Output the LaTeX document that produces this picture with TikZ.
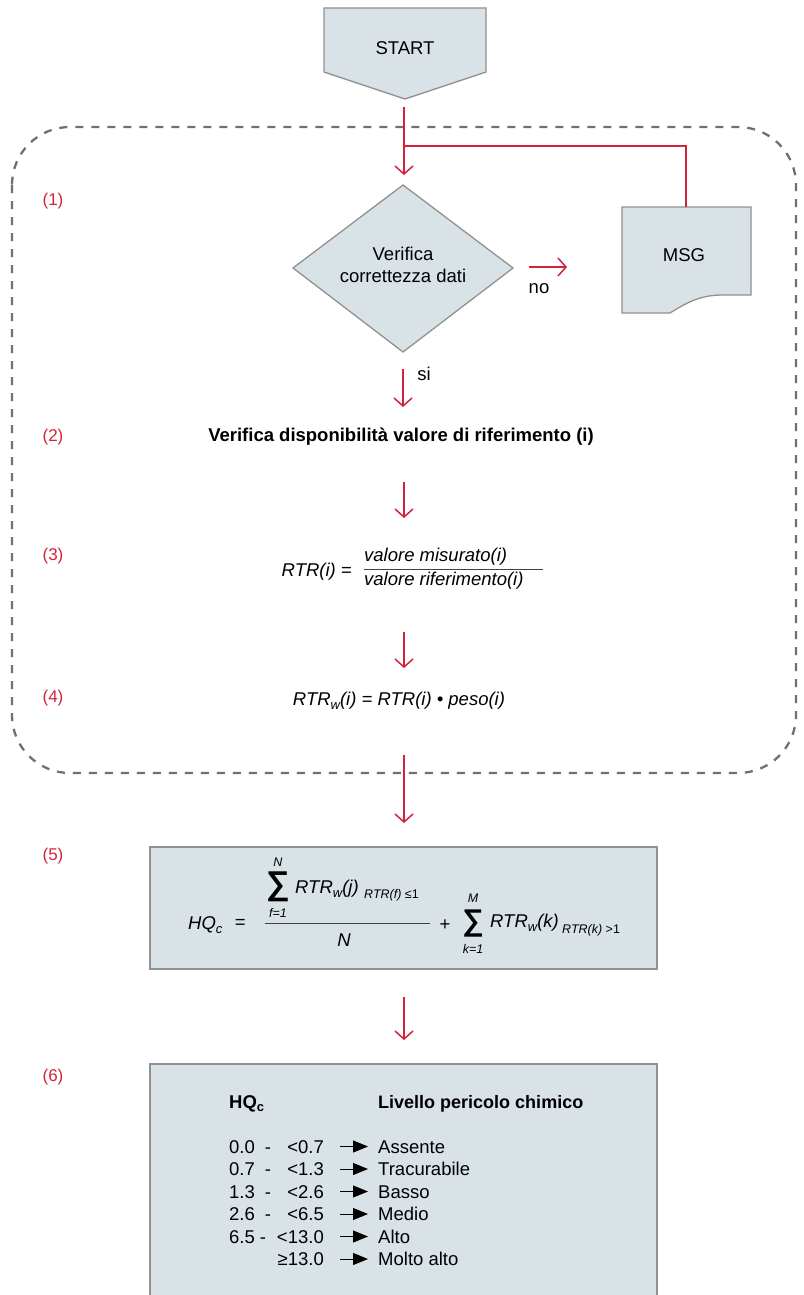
\documentclass[tikz,border=0pt]{standalone}
\usepackage{fontspec}
\usepackage{graphicx}
\setmainfont{Liberation Sans}
\usetikzlibrary{arrows.meta}
\definecolor{myred}{RGB}{210,35,60}
\definecolor{boxfill}{RGB}{217,227,231}
\definecolor{boxline}{RGB}{145,145,145}
\definecolor{dashgray}{RGB}{112,112,112}
\newcommand{\mysub}[1]{\raisebox{-0.35ex}{\fontsize{13}{13}\selectfont #1}}
\begin{document}
\begin{tikzpicture}[x=1pt,y=-1pt,
  shapebox/.style={draw=boxline,fill=boxfill,line width=1.3pt},
  redline/.style={draw=myred,line width=1.5pt},
  redarrow/.style={redline,-{Straight Barb[length=8pt,width=18pt]}},
  txt/.style={inner sep=0pt,font=\fontsize{18.5}{22}\selectfont},
  itxt/.style={txt,font=\fontsize{18.5}{22}\selectfont\itshape},
  small/.style={inner sep=0pt,font=\fontsize{12.5}{14}\selectfont\itshape},
  lbl/.style={inner sep=0pt,text=myred,font=\fontsize{17}{20}\selectfont},
  sumsym/.style={inner sep=0pt,font=\fontsize{33}{36}\selectfont\bfseries},
  tarrow/.style={draw=black,line width=1pt,-{Triangle[length=15pt,width=12pt]}},
  rowtxt/.style={inner sep=0pt,anchor=base west,font=\fontsize{18.5}{22}\selectfont},
  rowtxte/.style={inner sep=0pt,anchor=base east,font=\fontsize{18.5}{22}\selectfont},
  rowtxtc/.style={inner sep=0pt,anchor=base,font=\fontsize{18.5}{22}\selectfont}
]
\useasboundingbox (0,0) rectangle (803,1295);
\clip (0,0) rectangle (803,1295);
\fill[white] (0,0) rectangle (803,1295);

% dashed region
\draw[draw=dashgray,line width=2.3pt,dash pattern=on 8pt off 8pt,rounded corners=58pt]
  (12,127) rectangle (796,773);

% step labels
\node[lbl] (l1) at (53,201) {(1)};
\node[lbl] (l2) at (53,437) {(2)};
\node[lbl] (l3) at (53,556) {(3)};
\node[lbl] (l4) at (53,698) {(4)};
\node[lbl] (l5) at (53,856) {(5)};
\node[lbl] (l6) at (53,1077) {(6)};

% START
\draw[shapebox] (324,8) -- (486,8) -- (486,72) -- (405,99) -- (324,72) -- cycle;
\node[txt] (start) at (405,48) {START};

% decision diamond
\draw[shapebox] (293,268) -- (403,185) -- (513,268) -- (403,352) -- cycle;
\node[txt,align=center] (check) at (403,265) {Verifica\\correttezza dati};

% MSG document
\draw[shapebox] (622,207) -- (751,207) -- (751,295) -- (723,295)
  .. controls (700,295) and (688,302) .. (670,313) -- (622,313) -- cycle;
\node[txt] (msg) at (684,255) {MSG};
\coordinate (msgtop) at (686,207);

% connectors top
\coordinate (s0) at (404,107);
\coordinate (s1) at (404,175);
\coordinate (br) at (404,146);
\draw[redarrow] (s0) -- (s1);
\draw[redline] (br) -| (msgtop);

\coordinate (n0) at (529,267);
\coordinate (n1) at (567,267);
\draw[redarrow] (n0) -- (n1);
\node[txt] (no) at (539,289) {no};

\coordinate (y0) at (403,369);
\coordinate (y1) at (403,407);
\draw[redarrow] (y0) -- (y1);
\node[txt] (si) at (424,374) {si};

% step 2
\node[txt,font=\fontsize{18.5}{22}\selectfont\bfseries] (disp) at (401,437) {Verifica disponibilità valore di riferimento (i)};

\coordinate (c0) at (404,482);
\coordinate (c1) at (404,518);
\draw[redarrow] (c0) -- (c1);

% step 3
\node[itxt,anchor=east] (rtr) at (352,572) {RTR(i) =};
\node[itxt,anchor=west] (num) at (364,557) {valore misurato(i)};
\node[itxt,anchor=west] (den) at (364,581) {valore riferimento(i)};
\coordinate (fl0) at (364,569);
\coordinate (fl1) at (543,569);
\draw[draw=black!75,line width=1pt] (fl0) -- (fl1);

\coordinate (d0) at (404,632);
\coordinate (d1) at (404,668);
\draw[redarrow] (d0) -- (d1);

% step 4
\node[itxt] (rtrw) at (399,701) {RTR\mysub{w}(i) = RTR(i) • peso(i)};

\coordinate (e0) at (404,755);
\coordinate (e1) at (404,823);
\draw[redarrow] (e0) -- (e1);

% step 5 box
\draw[shapebox] (150,847) rectangle (657,969);
\node[itxt,anchor=west] (hq) at (188,925) {HQ\mysub{c}};
\node[itxt] (eq) at (240,924) {=};
\node[sumsym] (sum1) at (278,887) {∑};
\node[small] (sN) at (278,862) {N};
\node[small] (sf) at (278,913) {f=1};
\node[itxt,anchor=west] (rj) at (295,889) {RTR\mysub{w}(j)};
\node[small,anchor=west] (cj) at (364,895) {RTR(f) \upshape≤1};
\coordinate (hl0) at (265,923);
\coordinate (hl1) at (430,923);
\draw[draw=black!75,line width=1pt] (hl0) -- (hl1);
\node[itxt] (nden) at (344,940) {N};
\node[txt] (plus) at (445,925) {+};
\node[sumsym,font=\fontsize{30}{32}\selectfont\bfseries] (sum2) at (473,924) {∑};
\node[small] (sM) at (473,898) {M};
\node[small] (sk) at (473,949) {k=1};
\node[itxt,anchor=west] (rk) at (490,923) {RTR\mysub{w}(k)};
\node[small,anchor=west] (ck) at (562,930) {RTR(k) \upshape>1};

\coordinate (g0) at (404,997);
\coordinate (g1) at (404,1040);
\draw[redarrow] (g0) -- (g1);

% step 6 box
\draw[shapebox] (150,1064) rectangle (657,1310);
\node[rowtxt,font=\fontsize{18.5}{22}\selectfont\bfseries] (h1) at (229,1108) {HQ\mysub{c}};
\node[rowtxt,font=\fontsize{18}{22}\selectfont\bfseries] (h2) at (378,1108) {Livello pericolo chimico};

% rows
\node[rowtxt] (a1) at (229,1153) {0.0};
\node[rowtxtc] (b1) at (268,1153) {-};
\node[rowtxte] (c1) at (324,1153) {<0.7};
\node[rowtxt] (r1) at (378,1153) {Assente};
\node[rowtxt] (a2) at (229,1175.5) {0.7};
\node[rowtxtc] (b2) at (268,1175.5) {-};
\node[rowtxte] (c2) at (324,1175.5) {<1.3};
\node[rowtxt] (r2) at (378,1175.5) {Tracurabile};
\node[rowtxt] (a3) at (229,1198) {1.3};
\node[rowtxtc] (b3) at (268,1198) {-};
\node[rowtxte] (c3) at (324,1198) {<2.6};
\node[rowtxt] (r3) at (378,1198) {Basso};
\node[rowtxt] (a4) at (229,1220.5) {2.6};
\node[rowtxtc] (b4) at (268,1220.5) {-};
\node[rowtxte] (c4) at (324,1220.5) {<6.5};
\node[rowtxt] (r4) at (378,1220.5) {Medio};
\node[rowtxt] (a5) at (229,1243) {6.5};
\node[rowtxtc] (b5) at (263,1243) {-};
\node[rowtxte] (c5) at (324,1243) {<13.0};
\node[rowtxt] (r5) at (378,1243) {Alto};
\node[rowtxte] (c6) at (324,1265.5) {≥13.0};
\node[rowtxt] (r6) at (378,1265.5) {Molto alto};

\foreach \i/\y in {1/1146.5,2/1169,3/1191.5,4/1214,5/1236.5,6/1259}{
  \coordinate (ta\i) at (340,\y);
  \coordinate (tb\i) at (368,\y);
  \draw[tarrow] (ta\i) -- (tb\i);
}
\end{tikzpicture}
\end{document}
